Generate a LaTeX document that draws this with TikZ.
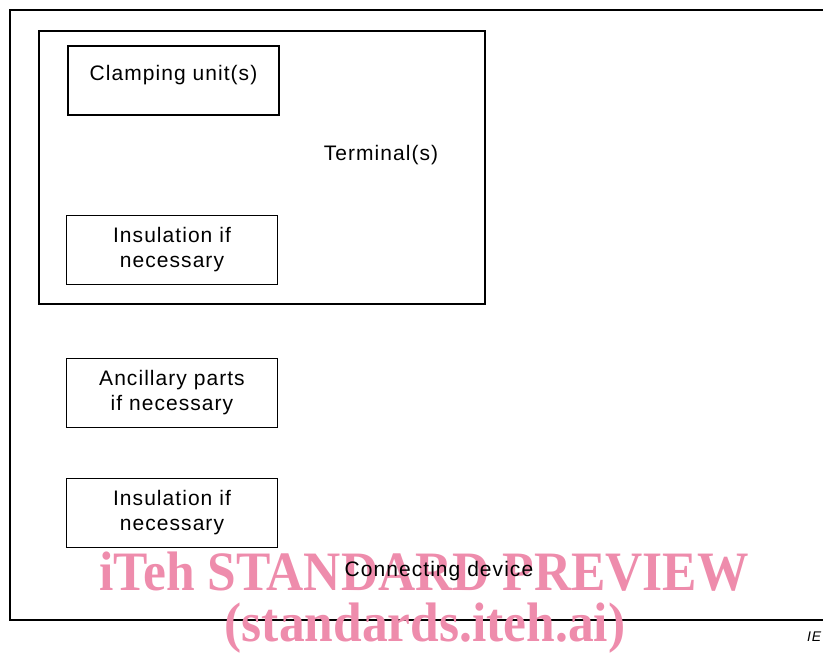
\documentclass[tikz,border=0pt]{standalone}
\usepackage{fontspec}
\setmainfont{Liberation Sans}[LetterSpace=5]
\newfontfamily\wmfont{Liberation Serif}
\usetikzlibrary{positioning}
\definecolor{wmpink}{RGB}{238,140,172}
\tikzstyle{frame} = [draw, line width=1.6pt]
\tikzstyle{block} = [draw, line width=1.6pt, rectangle, align=center, minimum width=211pt, minimum height=69pt, inner sep=0pt]
\tikzstyle{txt} = [font=\fontsize{21}{25}\selectfont, align=center, inner sep=0pt]
\tikzstyle{watermark} = [text=wmpink, font=\wmfont\bfseries\fontsize{51.5}{51.5}\selectfont, inner sep=0pt, anchor=base, yscale=1.08]

\begin{document}
\begin{tikzpicture}[x=1pt, y=-1pt, txt, node distance=143pt]
        \useasboundingbox (0,0) rectangle (823,654);
        % outer frame and terminal
        \draw[frame] (10,10) rectangle (840,620);
        \node[block, minimum width=446pt, minimum height=273pt] (term) at (262,167.5) {};
        \node[txt] (termtext) at (381,155) {Terminal(s)};
        % boxes
        \node[block, label={[txt, yshift=5pt]center:Clamping unit(s)}] (clamp) at (173.5,80.5) {};
        \node[block] (ins1) at (172,250) {Insulation if\\necessary};
        \node[block, below of=ins1] (anc) {Ancillary parts\\if necessary};
        \node[block, below of=anc, node distance=120pt] (ins2) {Insulation if\\necessary};
        % watermark
        \node[watermark] (wm1) at (424,590) {iTeh STANDARD PREVIEW};
        \node[watermark] (wm2) at (425,641) {(standards.iteh.ai)};
        \node[txt] (device) at (439,571) {Connecting device};
        \node[font=\itshape\fontsize{14}{14}\selectfont, anchor=base west, inner sep=0pt] (ref) at (807,641) {IE};
    \end{tikzpicture}
\end{document}
